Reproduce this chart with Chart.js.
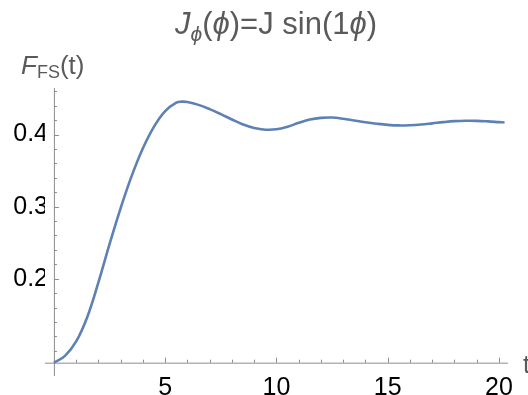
<!doctype html>
<html lang="en">
<head>
<meta charset="utf-8">
<title>F_FS(t)</title>
<style>
  body { margin: 0; background: #fff; }
</style>
</head>
<body>
<canvas id="myChart" width="528" height="395"></canvas>
<script src="https://cdn.jsdelivr.net/npm/chart.js@4.4.1/dist/chart.umd.min.js"></script>
<script>
// curve
var tValues = [0, 0.5, 1, 1.5, 2, 2.5, 3, 3.5, 4, 4.5, 5, 5.5, 5.75, 6, 6.5, 7, 7.5, 8, 8.5, 9, 9.5,
               10, 10.5, 11, 11.5, 12, 12.5, 13, 13.5, 14, 14.5, 15, 15.5, 16, 16.5, 17, 17.5,
               18, 18.5, 19, 19.5, 20, 20.25];
var fValues = [0.0836, 0.0930, 0.1130, 0.1470, 0.1950, 0.2480, 0.2980, 0.3430, 0.3810, 0.4110, 0.4325, 0.4442,
               0.4456, 0.4451, 0.4411, 0.4352, 0.4283, 0.4208, 0.4140, 0.4090, 0.4067,
               0.4072, 0.4108, 0.4162, 0.4208, 0.4231, 0.4235, 0.4219, 0.4194, 0.4170, 0.4150, 0.4134, 0.4126,
               0.4129, 0.4139, 0.4155, 0.4172, 0.4185, 0.4190, 0.4189, 0.4182, 0.4172, 0.4167];

var xMajorTicks = [5, 10, 15, 20];
var xMinorTicks = [1, 2, 3, 4, 6, 7, 8, 9, 11, 12, 13, 14, 16, 17, 18, 19];
var yMajorTicks = [0.2, 0.3, 0.4];
var yMinorTicks = [0.10, 0.12, 0.14, 0.16, 0.18, 0.22, 0.24, 0.26, 0.28, 0.32, 0.34, 0.36, 0.38, 0.42, 0.44, 0.46];
var yOrigin = 0.0836;   // where the t axis crosses
var yTop = 0.4645;      // top end of the vertical axis
var xEnd = 20.4;        // right end of the horizontal axis

var FONT = '"Liberation Sans", Arial, sans-serif';
var AXIS_COLOR = '#8c8c8c';
var LABEL_GRAY = '#5a5a5a';

function drawRuns(ctx, runs, x, baseline) {
    runs.forEach(function (r) {
        ctx.font = (r.italic ? 'italic ' : '') + r.size + 'px ' + FONT;
        ctx.fillText(r.text, x, baseline + (r.shift || 0));
        x += ctx.measureText(r.text).width;
    });
}
function runsWidth(ctx, runs) {
    var w = 0;
    runs.forEach(function (r) {
        ctx.font = (r.italic ? 'italic ' : '') + r.size + 'px ' + FONT;
        w += ctx.measureText(r.text).width;
    });
    return w;
}

var axesPlugin = {
    id: 'mmaAxes',
    beforeDatasetsDraw: function (chart) {
        var ctx = chart.ctx, xs = chart.scales.x, ys = chart.scales.y;
        var x0 = xs.getPixelForValue(0), y0 = ys.getPixelForValue(yOrigin);
        ctx.save();
        ctx.strokeStyle = AXIS_COLOR;
        ctx.lineWidth = 1;
        ctx.beginPath();
        // axes
        ctx.moveTo(xs.getPixelForValue(-0.4), y0 + 0.5);
        ctx.lineTo(xs.getPixelForValue(xEnd), y0 + 0.5);
        ctx.moveTo(x0 + 0.5, ys.getPixelForValue(yTop));
        ctx.lineTo(x0 + 0.5, ys.bottom);
        // x ticks
        xMajorTicks.forEach(function (v) {
            var p = Math.round(xs.getPixelForValue(v)) + 0.5;
            ctx.moveTo(p, y0); ctx.lineTo(p, y0 - 5);
        });
        xMinorTicks.forEach(function (v) {
            var p = Math.round(xs.getPixelForValue(v)) + 0.5;
            ctx.moveTo(p, y0); ctx.lineTo(p, y0 - 3);
        });
        // y ticks
        yMajorTicks.forEach(function (v) {
            var p = Math.round(ys.getPixelForValue(v)) + 0.5;
            ctx.moveTo(x0, p); ctx.lineTo(x0 + 5, p);
        });
        yMinorTicks.forEach(function (v) {
            var p = Math.round(ys.getPixelForValue(v)) + 0.5;
            ctx.moveTo(x0, p); ctx.lineTo(x0 + 3, p);
        });
        ctx.stroke();
        ctx.restore();
    },
    afterDraw: function (chart) {
        var ctx = chart.ctx;
        ctx.save();
        ctx.fillStyle = LABEL_GRAY;
        ctx.textBaseline = 'alphabetic';
        ctx.textAlign = 'left';
        // title
        var title = [
            {text: 'J', italic: true, size: 31},
            {text: 'ϕ', italic: true, size: 21, shift: 7},
            {text: '(', size: 31},
            {text: 'ϕ', italic: true, size: 31},
            {text: ')=J sin(1', size: 31},
            {text: 'ϕ', italic: true, size: 31},
            {text: ')', size: 31}
        ];
        var w = runsWidth(ctx, title);
        drawRuns(ctx, title, 276 - w / 2, 34);
        // y axis label
        drawRuns(ctx, [
            {text: 'F', italic: true, size: 26},
            {text: 'FS', size: 18, shift: 4},
            {text: '(t)', size: 26}
        ], 21, 74);
        // x axis label
        drawRuns(ctx, [{text: 't', size: 25}], 523, 373);
        ctx.restore();
    }
};

var ctx = document.getElementById('myChart').getContext('2d');
var chart = new Chart(ctx, {
    type: 'line',
    data: {
        datasets: [{
            data: tValues.map(function (t, i) { return {x: t, y: fValues[i]}; }),
            borderColor: '#5e81b5',
            borderWidth: 2.6,
            pointRadius: 0,
            fill: false,
            tension: 0.4
        }]
    },
    options: {
        responsive: false,
        animation: false,
        layout: {padding: {top: 88, right: 19, left: 0, bottom: 0}},
        plugins: {legend: {display: false}, tooltip: {enabled: false}, title: {display: false}},
        scales: {
            x: {
                type: 'linear', min: -0.4, max: 20.45,
                grid: {display: false, drawTicks: false},
                border: {display: false},
                afterBuildTicks: function (s) { s.ticks = xMajorTicks.map(function (v) { return {value: v}; }); },
                afterFit: function (s) { s.height = 19; },
                ticks: {color: '#000', font: {family: FONT, size: 25}, padding: -3, maxRotation: 0, autoSkip: false}
            },
            y: {
                type: 'linear', min: 0.0651, max: yTop,
                grid: {display: false, drawTicks: false},
                border: {display: false},
                afterBuildTicks: function (s) { s.ticks = yMajorTicks.map(function (v) { return {value: v}; }); },
                afterFit: function (s) { s.width = 45; },
                ticks: {color: '#000', font: {family: FONT, size: 25}, padding: -3, autoSkip: false,
                        callback: function (v) { return v.toFixed(1); }}
            }
        }
    },
    plugins: [axesPlugin]
});
</script>
</body>
</html>
